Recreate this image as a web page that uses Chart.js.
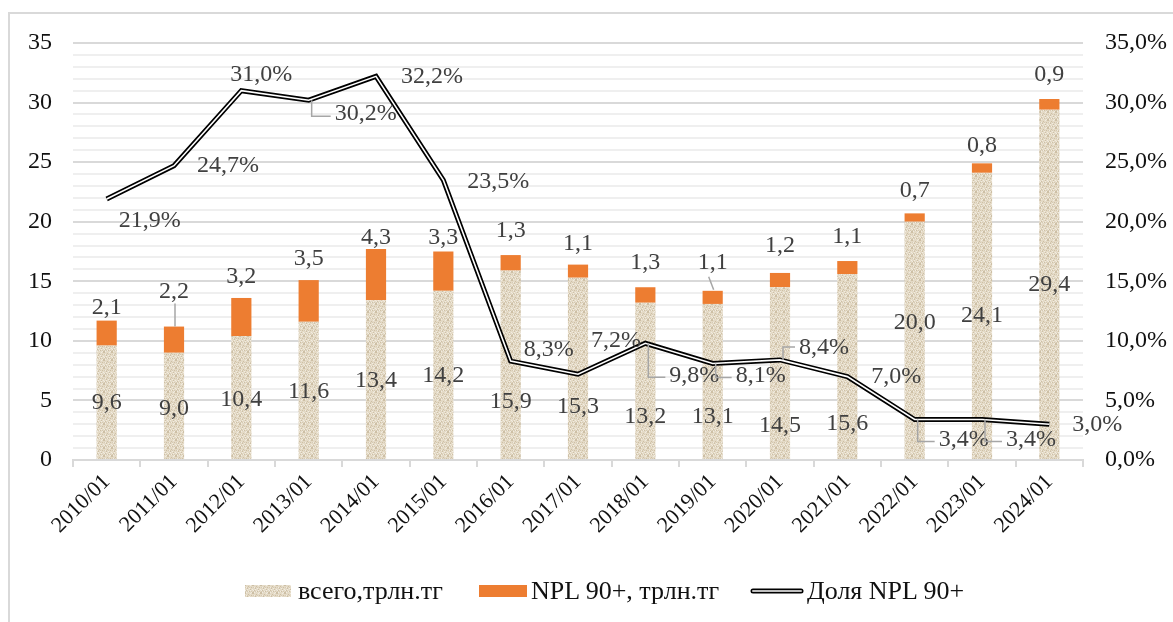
<!DOCTYPE html>
<html>
<head>
<meta charset="utf-8">
<script src="https://cdn.jsdelivr.net/npm/chart.js@4/dist/chart.umd.min.js"></script>
<style>
  html, body { margin: 0; padding: 0; background: #fff; }
  #wrap { position: relative; width: 1173px; height: 622px; overflow: hidden; }
  #frame { position: absolute; left: 8px; top: 12px; width: 1200px; height: 700px; border-left: 2px solid #d9d9d9; border-top: 2px solid #d9d9d9; }
  canvas#c { position: absolute; left: 0; top: 0; }
  .lg { position: absolute; font-family: "Liberation Serif", "Times New Roman", serif; font-size: 26px; color: #111; line-height: 26px; top: 578px; white-space: nowrap; }
  .sw { position: absolute; }
</style>
</head>
<body>
<div id="wrap">
  <div id="frame"></div>
  <canvas id="c" width="1173" height="622"></canvas>
  <canvas class="sw" id="sw1" width="46" height="12" style="left:245px;top:585px"></canvas>
  <div class="lg" style="left:298px">всего,трлн.тг</div>
  <div class="sw" style="left:479px;top:585px;width:48px;height:12px;background:#ED7D31"></div>
  <div class="lg" style="left:531px">NPL 90+, трлн.тг</div>
  <canvas class="sw" id="sw3" width="54" height="10" style="left:750px;top:586px"></canvas>
  <div class="lg" style="left:807px">Доля NPL 90+</div>
</div>
<script>
// ---- data ----
const categories = ['2010/01','2011/01','2012/01','2013/01','2014/01','2015/01','2016/01','2017/01','2018/01','2019/01','2020/01','2021/01','2022/01','2023/01','2024/01'];
const totalValues = [9.6, 9.0, 10.4, 11.6, 13.4, 14.2, 15.9, 15.3, 13.2, 13.1, 14.5, 15.6, 20.0, 24.1, 29.4];
const nplValues = [2.1, 2.2, 3.2, 3.5, 4.3, 3.3, 1.3, 1.1, 1.3, 1.1, 1.2, 1.1, 0.7, 0.8, 0.9];
const nplShare = [21.9, 24.7, 31.0, 30.2, 32.2, 23.5, 8.3, 7.2, 9.8, 8.1, 8.4, 7.0, 3.4, 3.4, 3.0];
const seriesNames = ['всего,трлн.тг', 'NPL 90+, трлн.тг', 'Доля NPL 90+'];

// ---- label layout (pixel offsets, style only) ----
const totalLabelDy = [0, 3, 2, 1, 1, 1, 37, 38, 36, 35, 53, 57, -18, 0, 0];
const nplLabelDy = [-13, -35, -21, -21, -11, -14, -24, -21, -25, -28, -27, -24, -23, -18, -24];
const nplLeader = [0, 1, 0, 0, 0, 0, 0, 0, 0, 1, 0, 0, 0, 0, 0];
const shareLabelDx = [43, 54, 20, 57, 56, 55, 38, 38, 49, 48, 44, 49, 49, 49, 48];
const shareLabelDy = [22, 0, -16, 14, 0, 2, -11, -34, 32, 12, -12, 0, 20, 20, 0];
const shareLeader = [0, 0, 0, 1, 0, 0, 0, 0, 1, 1, 1, 0, 1, 1, 0];

const fmt1 = v => v.toFixed(1).replace('.', ',');

// texture pattern for "всего"
function makeTexture() {
  const t = document.createElement('canvas');
  t.width = 8; t.height = 8;
  const g = t.getContext('2d');
  g.fillStyle = '#e4dac6';
  g.fillRect(0, 0, 8, 8);
  for (let y = 0; y < 8; y++) {
    for (let x = 0; x < 8; x++) {
      if ((x * 3 + y * 5) % 7 === 0) { g.fillStyle = '#cdbfa5'; g.fillRect(x, y, 1, 1); }
      else if ((x + y * 2) % 5 === 0) { g.fillStyle = '#f1ece1'; g.fillRect(x, y, 1, 1); }
      else if (y % 4 === 2 && x % 2 === 0) { g.fillStyle = '#d6cab3'; g.fillRect(x, y, 1, 1); }
    }
  }
  return t;
}
const tex = makeTexture();
const ctx = document.getElementById('c').getContext('2d');
const texPattern = ctx.createPattern(tex, 'repeat');

// legend swatches
(function () {
  const s1 = document.getElementById('sw1').getContext('2d');
  s1.fillStyle = s1.createPattern(tex, 'repeat');
  s1.fillRect(0, 0, 46, 12);
  const s3 = document.getElementById('sw3').getContext('2d');
  s3.lineCap = 'round';
  s3.strokeStyle = '#000'; s3.lineWidth = 5;
  s3.beginPath(); s3.moveTo(3, 5); s3.lineTo(51, 5); s3.stroke();
  s3.strokeStyle = '#bfbfbf'; s3.lineWidth = 2;
  s3.beginPath(); s3.moveTo(3, 5); s3.lineTo(51, 5); s3.stroke();
})();

const labelFont = '24px "Liberation Serif", "Times New Roman", serif';
const labelColor = '#404040';
const leaderColor = '#a6a6a6';

const labelsPlugin = {
  id: 'labelsPlugin',
  afterDatasetsDraw(chart) {
    const c = chart.ctx;
    const mLine = chart.getDatasetMeta(2);
    const mTot = chart.getDatasetMeta(0);
    const mNpl = chart.getDatasetMeta(1);
    // inner white stroke of the double line
    c.save();
    c.strokeStyle = '#ffffff';
    c.lineWidth = 1.6;
    c.lineJoin = 'miter';
    c.beginPath();
    mLine.data.forEach((p, i) => { if (i === 0) c.moveTo(p.x, p.y); else c.lineTo(p.x, p.y); });
    c.stroke();
    c.restore();

    c.save();
    c.font = labelFont;
    c.fillStyle = labelColor;
    c.textAlign = 'center';
    c.textBaseline = 'middle';
    // total labels
    mTot.data.forEach((b, i) => {
      const y = (b.y + b.base) / 2 + totalLabelDy[i];
      c.fillText(fmt1(totalValues[i]), b.x, y);
    });
    // npl labels
    mNpl.data.forEach((b, i) => {
      const y = b.y + nplLabelDy[i];
      if (nplLeader[i]) {
        c.save();
        c.strokeStyle = leaderColor; c.lineWidth = 1.5;
        c.beginPath();
        if (i === 1) { c.moveTo(b.x + 1, b.y); c.lineTo(b.x + 1, y + 12); }
        else { c.moveTo(b.x + 1, b.y - 1); c.lineTo(b.x - 4, y + 14); }
        c.stroke();
        c.restore();
      }
      c.fillText(fmt1(nplValues[i]), b.x, y);
    });
    // share labels
    mLine.data.forEach((p, i) => {
      const lx = p.x + shareLabelDx[i];
      const ly = p.y + shareLabelDy[i];
      const txt = fmt1(nplShare[i]) + '%';
      const w = c.measureText(txt).width;
      if (shareLeader[i]) {
        c.save();
        c.strokeStyle = leaderColor; c.lineWidth = 1.5;
        const vx = p.x + 3;
        const hy = ly + (ly > p.y ? 2 : -1);
        c.beginPath();
        c.moveTo(vx, p.y);
        c.lineTo(vx, hy);
        c.lineTo(lx - w / 2 - 4, hy);
        c.stroke();
        c.restore();
      }
      c.fillText(txt, lx, ly);
    });
    c.restore();
  }
};

new Chart(ctx, {
  data: {
    labels: categories,
    datasets: [
      { type: 'bar', label: seriesNames[0], data: totalValues, backgroundColor: texPattern, yAxisID: 'y', order: 1, stack: 's' },
      { type: 'bar', label: seriesNames[1], data: nplValues, backgroundColor: '#ED7D31', yAxisID: 'y', order: 1, stack: 's' },
      { type: 'line', label: seriesNames[2], data: nplShare, borderColor: '#000000', borderWidth: 5, pointRadius: 0, tension: 0, yAxisID: 'y1', order: 0, borderJoinStyle: 'miter' }
    ]
  },
  options: {
    responsive: false,
    animation: false,
    layout: { padding: { top: 43, bottom: 60, left: 0, right: 0 } },
    datasets: { bar: { barPercentage: 0.3, categoryPercentage: 1.0 } },
    plugins: { legend: { display: false }, tooltip: { enabled: false } },
    scales: {
      x: {
        stacked: true,
        offset: true,
        afterFit(s) { s.height = 102; },
        grid: { offset: true, drawOnChartArea: false, drawTicks: true, tickLength: 7, color: '#d9d9d9', lineWidth: 2 },
        border: { color: '#d9d9d9', width: 2 },
        ticks: {
          autoSkip: false, maxRotation: 45, minRotation: 45, padding: 2, color: '#111',
          font: { family: '"Liberation Serif", "Times New Roman", serif', size: 22 }
        }
      },
      y: {
        stacked: true,
        position: 'left',
        min: 0, max: 35,
        afterFit(s) { s.width = 73; },
        grid: {
          drawTicks: false,
          color: c => (c.tick && c.tick.value % 5 === 0) ? '#d9d9d9' : '#efefef',
          lineWidth: 2
        },
        border: { display: false },
        ticks: {
          stepSize: 1, autoSkip: false, padding: 21, color: '#111',
          font: { family: '"Liberation Serif", "Times New Roman", serif', size: 24 },
          callback: v => (v % 5 === 0 ? String(v) : '')
        }
      },
      y1: {
        position: 'right',
        min: 0, max: 35,
        afterFit(s) { s.width = 90; },
        grid: { drawOnChartArea: false, drawTicks: false },
        border: { display: false },
        ticks: {
          stepSize: 5, padding: 22, color: '#111',
          font: { family: '"Liberation Serif", "Times New Roman", serif', size: 24 },
          callback: v => fmt1(v) + '%'
        }
      }
    }
  },
  plugins: [labelsPlugin]
});
</script>
</body>
</html>
